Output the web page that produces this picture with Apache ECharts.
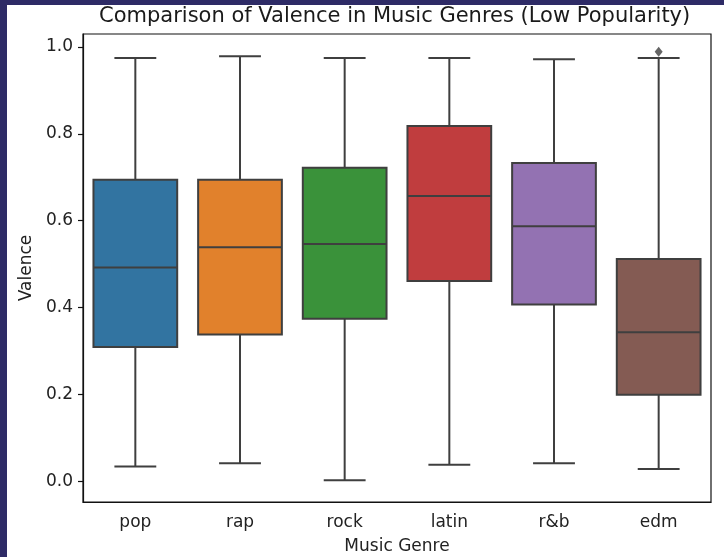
<!DOCTYPE html>
<html>
<head>
<meta charset="utf-8">
<script src="https://cdn.jsdelivr.net/npm/echarts@6/dist/echarts.min.js"></script>
<style>
  html, body { margin: 0; padding: 0; background: #2e2b66; }
  #chart { position: absolute; left: 7px; top: 5px; width: 717px; height: 552px; background: #fff; }
</style>
</head>
<body>
<div id="chart"></div>
<script>
// genres and their box stats: [min, q1, median, q3, max]
const genres = ['pop', 'rap', 'rock', 'latin', 'r&b', 'edm']
const whiskerLow = [0.034, 0.041, 0.002, 0.038, 0.041, 0.028]
const q1 = [0.309, 0.338, 0.374, 0.461, 0.407, 0.199]
const median = [0.492, 0.539, 0.546, 0.657, 0.587, 0.343]
const q3 = [0.694, 0.694, 0.722, 0.818, 0.733, 0.512]
const whiskerHigh = [0.975, 0.979, 0.975, 0.975, 0.972, 0.975]
const outliers = [['edm', 0.989]]
const yTicks = [0, 0.2, 0.4, 0.6, 0.8, 1.0]
const colors = ['#3274a1', '#e1812c', '#3a923a', '#c03d3e', '#9372b2', '#845b53']

const lineColor = '#3f3f3f'
const boxData = genres.map((g, i) => [i, whiskerLow[i], q1[i], median[i], q3[i], whiskerHigh[i]])

function renderBox(params, api) {
  const idx = api.value(0)
  const band = api.size([1, 0])[0]
  const boxW = band * 0.8
  const capW = boxW * 0.5
  const pLow = api.coord([idx, api.value(1)])
  const pQ1 = api.coord([idx, api.value(2)])
  const pMed = api.coord([idx, api.value(3)])
  const pQ3 = api.coord([idx, api.value(4)])
  const pHigh = api.coord([idx, api.value(5)])
  const cx = pQ1[0]
  const lineStyle = { stroke: lineColor, lineWidth: 2, fill: null }
  return {
    type: 'group',
    children: [
      { type: 'line', shape: { x1: cx, y1: pQ3[1], x2: cx, y2: pHigh[1] }, style: lineStyle },
      { type: 'line', shape: { x1: cx, y1: pQ1[1], x2: cx, y2: pLow[1] }, style: lineStyle },
      { type: 'line', shape: { x1: cx - capW / 2, y1: pHigh[1], x2: cx + capW / 2, y2: pHigh[1] }, style: lineStyle },
      { type: 'line', shape: { x1: cx - capW / 2, y1: pLow[1], x2: cx + capW / 2, y2: pLow[1] }, style: lineStyle },
      {
        type: 'rect',
        shape: { x: cx - boxW / 2, y: pQ3[1], width: boxW, height: pQ1[1] - pQ3[1] },
        style: { fill: colors[idx], stroke: lineColor, lineWidth: 2 },
      },
      { type: 'line', shape: { x1: cx - boxW / 2, y1: pMed[1], x2: cx + boxW / 2, y2: pMed[1] }, style: lineStyle },
    ],
  }
}

const font = 'DejaVu Sans'
const chart = echarts.init(document.getElementById('chart'))
chart.setOption({
  animation: false,
  title: {
    text: 'Comparison of Valence in Music Genres (Low Popularity)',
    left: 92,
    top: 1,
    padding: 0,
    textStyle: { fontFamily: font, fontWeight: 'normal', fontSize: 21, color: '#1a1a1a' },
  },
  grid: {
    left: 76, right: 13, top: 29, bottom: 55,
    outerBoundsMode: 'none',
    show: true, borderColor: '#111', borderWidth: 1.2, backgroundColor: 'transparent',
  },
  xAxis: {
    type: 'category',
    data: genres,
    name: 'Music Genre',
    nameLocation: 'middle',
    nameGap: 36,
    nameTextStyle: { fontFamily: font, fontSize: 17, color: '#222' },
    axisLine: { onZero: false, lineStyle: { color: '#111', width: 1.2 } },
    axisTick: { alignWithLabel: true, length: 5, lineStyle: { color: '#111', width: 1.2 } },
    axisLabel: { fontFamily: font, fontSize: 17, color: '#222', margin: 12 },
    splitLine: { show: false },
  },
  yAxis: {
    type: 'value',
    min: -0.048,
    max: 1.03,
    name: 'Valence',
    nameLocation: 'middle',
    nameGap: 47,
    nameTextStyle: { fontFamily: font, fontSize: 17, color: '#222' },
    axisLine: { show: true, onZero: false, lineStyle: { color: '#111', width: 1.2 } },
    axisTick: { show: true, length: 5, customValues: yTicks, lineStyle: { color: '#111', width: 1.2 } },
    axisLabel: {
      fontFamily: font, fontSize: 17, color: '#222', margin: 10,
      customValues: yTicks,
      formatter: (v) => v.toFixed(1),
    },
    splitLine: { show: false },
  },
  series: [
    {
      type: 'custom',
      renderItem: renderBox,
      data: boxData,
      encode: { x: 0, y: [1, 2, 3, 4, 5] },
      z: 2,
    },
    {
      type: 'scatter',
      data: outliers,
      symbol: 'diamond',
      symbolSize: [8, 10],
      itemStyle: { color: lineColor },
      z: 3,
    },
  ],
})
</script>
</body>
</html>
